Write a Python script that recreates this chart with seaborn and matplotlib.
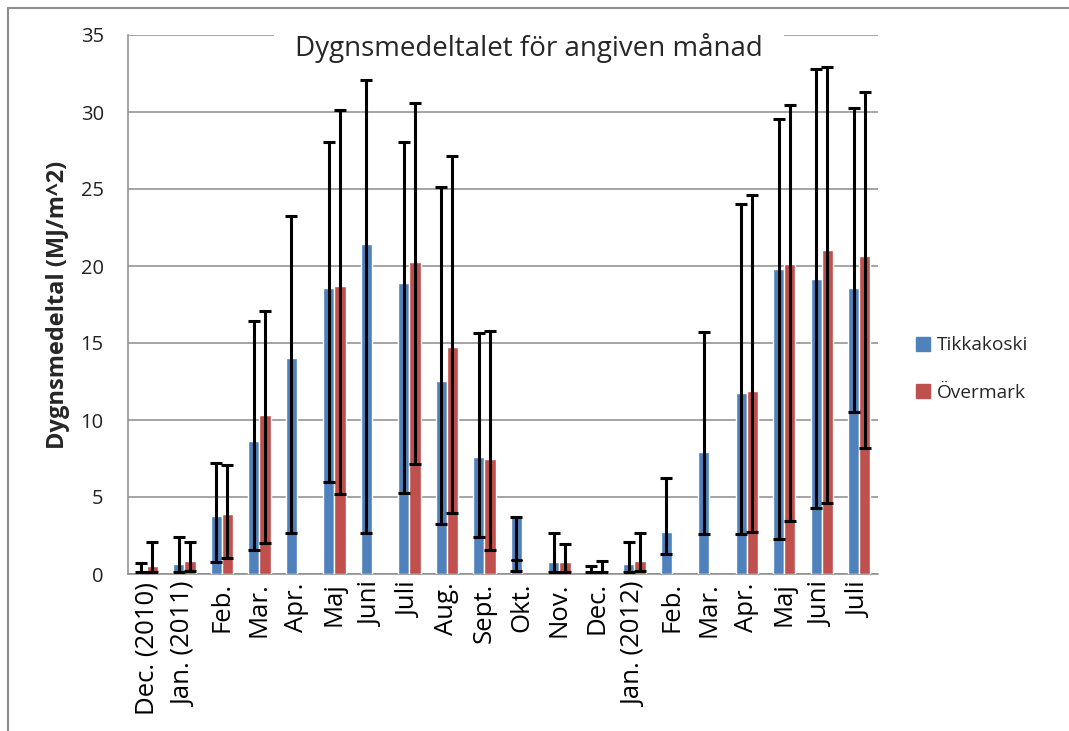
import numpy as np
import pandas as pd
import matplotlib
matplotlib.use("Agg")
import matplotlib.pyplot as plt
import seaborn as sns
from matplotlib.lines import Line2D

months = ["Dec. (2010)", "Jan. (2011)", "Feb.", "Mar.", "Apr.", "Maj", "Juni", "Juli",
          "Aug.", "Sept.", "Okt.", "Nov.", "Dec.", "Jan. (2012)", "Feb.", "Mar.",
          "Apr.", "Maj", "Juni", "Juli"]
series = ["Tikkakoski", "Övermark"]

tikka_mean = [0.2, 0.64, 3.76, 8.63, 14.05, 18.56, 21.42, 18.87, 12.51, 7.61,
              3.69, 0.78, 0.17, 0.64, 2.74, 7.95, 11.73, 19.79, 19.13, 18.56]
tikka_max = [0.73, 2.39, 7.24, 16.46, 23.24, 28.02, 32.06, 28.02, 25.16, 15.65,
             3.69, 2.67, 0.52, 2.06, 6.22, 15.72, 24.0, 29.56, 32.77, 30.29]
tikka_min = [0.1, 0.1, 0.8, 1.58, 2.65, 5.96, 2.65, 5.25, 3.24, 2.39,
             0.17, 0.1, 0.1, 0.12, 1.32, 2.58, 2.58, 2.27, 4.28, 10.5]

over_mean = [0.5, 0.87, 3.88, 10.31, np.nan, 18.7, np.nan, 20.26, 14.76, 7.45,
             np.nan, 0.78, 0.21, 0.87, np.nan, np.nan, 11.87, 20.12, 21.05, 20.64]
over_max = [2.1, 2.1, 7.09, 17.1, np.nan, 30.15, np.nan, 30.6, 27.17, 15.77,
            np.nan, 1.96, 0.87, 2.67, np.nan, np.nan, 24.62, 30.43, 32.89, 31.28]
over_min = [0.1, 0.17, 1.04, 2.03, np.nan, 5.18, np.nan, 7.12, 3.97, 1.58,
            np.nan, 0.1, 0.1, 0.17, np.nan, np.nan, 2.7, 3.41, 4.59, 8.18]

# extra lower cap seen on the Okt. bar
okt_extra_cap = 0.9

colors = ["#4F81BD", "#C0504D"]

sns.set_style("white")
plt.rcParams["font.family"] = ["Open Sans", "DejaVu Sans"]

cat_ids = [f"{i:02d}" for i in range(len(months))]
df = pd.DataFrame({
    "cat": cat_ids * 2,
    "serie": [series[0]] * len(months) + [series[1]] * len(months),
    "value": tikka_mean + over_mean,
})

fig = plt.figure(figsize=(10.69, 7.31), dpi=100)
ax = fig.add_axes([128 / 1069, 1 - 574 / 731, 750 / 1069, 539 / 731])

sns.barplot(data=df, x="cat", y="value", hue="serie", order=cat_ids,
            hue_order=series, palette=colors, errorbar=None, width=0.6,
            saturation=1, ax=ax, legend=False, zorder=3)

n = len(months)
x = np.arange(n)
offs = [-0.15, 0.15]
for k, (mean, lo, hi) in enumerate([(tikka_mean, tikka_min, tikka_max),
                                     (over_mean, over_min, over_max)]):
    mean = np.array(mean, dtype=float)
    lo = np.array(lo, dtype=float)
    hi = np.array(hi, dtype=float)
    m = ~np.isnan(mean)
    yerr = np.vstack([mean[m] - lo[m], hi[m] - mean[m]])
    ax.errorbar(x[m] + offs[k], mean[m], yerr=yerr, fmt="none", ecolor="black",
                elinewidth=2.2, capsize=4.4, capthick=2.2, zorder=4)
okt = months.index("Okt.")
ax.plot([okt - 0.15 - 0.12, okt - 0.15 + 0.12], [okt_extra_cap, okt_extra_cap],
        color="black", lw=2.2, zorder=4)

ax.set_ylim(0, 35)
ax.set_xlim(-0.5, n - 0.5)
ax.set_yticks(np.arange(0, 36, 5))
ax.yaxis.grid(True, color="#8c8c8c", linewidth=1.1, zorder=0)
ax.set_axisbelow(True)
ax.set_xticks(x)
ax.set_xticklabels(months, rotation=90, fontsize=18.5)
ax.set_xticks(np.arange(-0.5, n, 1.0), minor=True)
ax.tick_params(axis="x", which="major", length=0, pad=6, colors="black")
ax.tick_params(axis="x", which="minor", length=7, width=1, color="#8c8c8c", direction="out")
ax.tick_params(axis="y", length=6, width=1, color="#8c8c8c", direction="out",
               labelsize=14.5, pad=11.5, labelcolor="#222222")
for s in ["top", "right"]:
    ax.spines[s].set_visible(False)
for s in ["left", "bottom"]:
    ax.spines[s].set_color("#8c8c8c")
    ax.spines[s].set_linewidth(1.1)

ax.set_xlabel("")
ax.set_ylabel("Dygnsmedeltal (MJ/m^2)", fontsize=17, fontweight="bold")
ax.yaxis.set_label_coords(-0.077, 0.5)

# title drawn inside the axes, above the gridlines but below bars/error bars
ax.text(0.495, 0.934, "Dygnsmedeltalet för angiven månad", ha="center", va="center",
        fontsize=20, transform=fig.transFigure, zorder=1, clip_on=False,
        bbox=dict(facecolor="white", edgecolor="none", pad=15))

handles = [Line2D([], [], marker="s", linestyle="none", markersize=9.5,
                  markerfacecolor=c, markeredgecolor=c) for c in colors]
fig.legend(handles, series, loc="center left", bbox_to_anchor=(0.838, 0.495),
           frameon=False, fontsize=13.8, labelspacing=1.55, handletextpad=0.25,
           handlelength=1.0)

# chart border (top and left visible)
fig.add_artist(Line2D([0.0075, 1.0], [0.989, 0.989], color="#8c8c8c", lw=1.5,
                      transform=fig.transFigure))
fig.add_artist(Line2D([0.0075, 0.0075], [0.0, 0.989], color="#8c8c8c", lw=1.5,
                      transform=fig.transFigure))

fig.savefig("out.png", dpi=100)
